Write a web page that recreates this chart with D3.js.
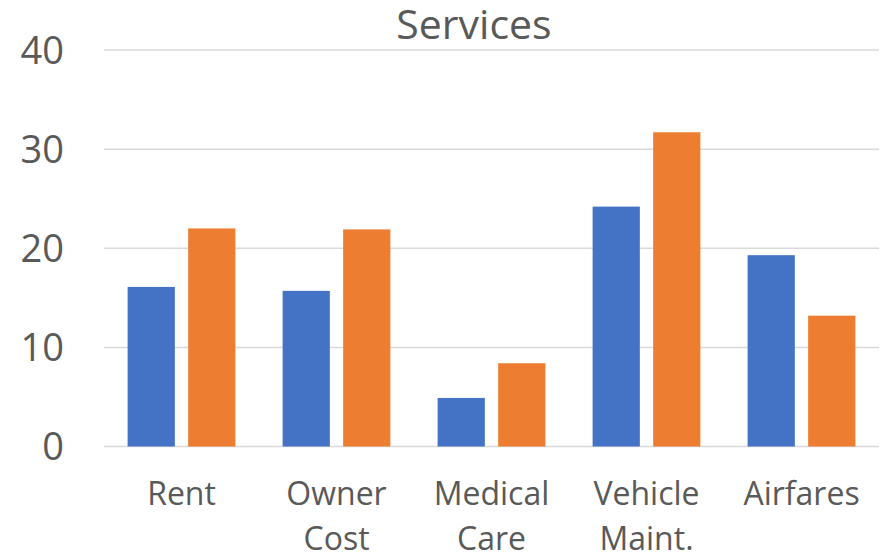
<!DOCTYPE html>
<meta charset="utf-8">
<style>
body { margin: 0; background: #fff; }
text { font-family: "Open Sans", sans-serif; fill: #595959; }
.grid line { stroke: #d9d9d9; stroke-width: 1.5px; }
</style>
<svg width="887" height="558"></svg>
<script src="https://cdn.jsdelivr.net/npm/d3@7"></script>
<script>

var categories = [["Rent"], ["Owner", "Cost"], ["Medical", "Care"], ["Vehicle", "Maint."], ["Airfares"]];
var seriesA = [16.1, 15.7, 4.9, 24.2, 19.3];
var seriesB = [22.0, 21.9, 8.4, 31.7, 13.2];
var yTicks = [0, 10, 20, 30, 40];
var colors = ["#4472C4", "#ED7D31"];

var svg = d3.select("svg");

var keys = categories.map(function(c) { return c.join(" "); });

var x = d3.scaleBand()
    .domain(keys)
    .range([104, 879])
    .padding(0);

var x1 = d3.scaleBand()
    .domain([0, 1])
    .range([0, x.bandwidth()])
    .paddingInner(0.22)
    .paddingOuter(0.39);

var y = d3.scaleLinear()
    .domain([0, 40])
    .range([446.5, 50]);

// gridlines
svg.append("g")
    .attr("class", "grid")
  .selectAll("line")
  .data(yTicks)
  .enter().append("line")
    .attr("x1", 104)
    .attr("x2", 879)
    .attr("y1", function(d) { return y(d); })
    .attr("y2", function(d) { return y(d); });

// y labels
svg.append("g")
  .selectAll("text")
  .data(yTicks)
  .enter().append("text")
    .attr("x", 64)
    .attr("y", function(d) { return y(d); })
    .attr("dy", "0.36em")
    .attr("text-anchor", "end")
    .style("font-size", "38px")
    .text(function(d) { return d; });

// bars
var rows = keys.map(function(k, i) { return { key: k, vals: [seriesA[i], seriesB[i]] }; });

var group = svg.append("g")
  .selectAll("g")
  .data(rows)
  .enter().append("g")
    .attr("transform", function(d) { return "translate(" + x(d.key) + ",0)"; });

group.selectAll("rect")
  .data(function(d) { return d.vals.map(function(v, j) { return { j: j, v: v }; }); })
  .enter().append("rect")
    .attr("x", function(d) { return x1(d.j); })
    .attr("width", x1.bandwidth())
    .attr("y", function(d) { return y(d.v); })
    .attr("height", function(d) { return y(0) - y(d.v); })
    .attr("fill", function(d) { return colors[d.j]; });

// category labels (second line runs to the bottom edge, as in the original)
var lab = svg.append("g")
  .selectAll("text")
  .data(categories)
  .enter().append("text")
    .attr("text-anchor", "middle")
    .attr("transform", function(d, i) { return "translate(" + (x(keys[i]) + x.bandwidth() / 2) + ",505)"; })
    .style("font-size", "32px");

lab.selectAll("tspan")
  .data(function(d) { return d; })
  .enter().append("tspan")
    .attr("x", 0)
    .attr("y", function(d, i) { return i * 45; })
    .text(function(d) { return d; });

// title
svg.append("text")
    .attr("x", 474)
    .attr("y", 39)
    .attr("text-anchor", "middle")
    .style("font-size", "41px")
    .text("Services");

</script>
